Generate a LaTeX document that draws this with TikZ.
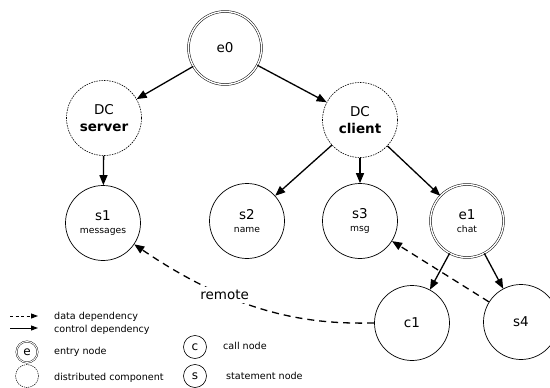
\documentclass[tikz,border=0pt]{standalone}
\usepackage{fontspec}
\setmainfont{DejaVu Sans}
\usetikzlibrary{arrows.meta}
\begin{document}
\begin{tikzpicture}[x=1pt,y=-1pt,
  every node/.style={inner sep=0pt},
  stmt/.style={circle,draw,line width=0.7pt,minimum size=75pt,align=center},
  entry/.style={circle,draw,double,double distance=1.4pt,line width=0.5pt,minimum size=73pt,align=center},
  dc/.style={circle,draw,dash pattern=on 1.6pt off 1pt,line width=0.6pt,minimum size=75pt,align=center,font=\fontsize{13.5}{17}\selectfont},
  ctrl/.style={line width=1.3pt,-{Triangle[length=10pt,width=8pt]}},
  dat/.style={line width=1.3pt,dash pattern=on 7pt off 5pt,-{Triangle[length=10pt,width=8pt]}},
  big/.style={font=\fontsize{13.5}{16}\selectfont},
  leg/.style={font=\fontsize{9.6}{11}\selectfont,anchor=west},
  lstmt/.style={circle,draw,line width=0.6pt,minimum size=23pt,font=\fontsize{12}{13}\selectfont},
  lentry/.style={circle,draw,double,double distance=1pt,line width=0.4pt,minimum size=21pt,font=\fontsize{12}{13}\selectfont},
  ldc/.style={circle,draw,dash pattern=on 1.3pt off 0.9pt,line width=0.5pt,minimum size=23pt}
]
\useasboundingbox (0,0) rectangle (550,388);
\newcommand{\two}[2]{\fontsize{13.5}{16}\selectfont #1\\[1pt]\fontsize{9.2}{11}\selectfont #2}
\node[entry,big] (e0) at (225,48) {e0};
\node[dc] (dcs) at (104,118) {DC\\\bfseries server};
\node[dc] (dcc) at (360,120) {DC\\\bfseries client};
\node[stmt] (s1) at (103,223) {\two{s1}{messages}};
\node[stmt] (s2) at (247,221) {\two{s2}{name}};
\node[stmt] (s3) at (360,221) {\two{s3}{msg}};
\node[entry] (e1) at (467,221) {\two{e1}{chat}};
\node[stmt,big] (c1) at (412,323) {c1};
\node[stmt,big] (s4) at (521,322) {s4};

\draw[ctrl] (e0) -- (dcs);
\draw[ctrl] (e0) -- (dcc);
\draw[ctrl] (dcs) -- (s1);
\draw[ctrl] (dcc) -- (s2);
\draw[ctrl] (dcc) -- (s3);
\draw[ctrl] (dcc) -- (e1);
\draw[ctrl] (e1) -- (c1);
\draw[ctrl] (e1) -- (s4);
\draw[dat] (s4) -- (s3);
\draw[dat] (c1.west) .. controls (320,324) and (245,320) .. node[pos=0.7,fill=white,inner xsep=4pt,inner ysep=3pt,big]{remote} (s1);

% legend
\coordinate (la1) at (10,316); \coordinate (lb1) at (38,316);
\coordinate (la2) at (10,328); \coordinate (lb2) at (38,328);
\draw[line width=0.9pt,dash pattern=on 3pt off 2.5pt,-{Triangle[length=7pt,width=5pt]}] (la1) -- (lb1);
\draw[line width=0.9pt,-{Triangle[length=7pt,width=5pt]}] (la2) -- (lb2);
\node[leg] (t1) at (54,317) {data dependency};
\node[leg] (t2) at (54,330) {control dependency};
\node[lentry] (le) at (27,352) {e};
\node[leg] (t3) at (54,352) {entry node};
\node[ldc] (ld) at (27,376) {};
\node[leg] (t4) at (54,378) {distributed component};
\node[lstmt] (lc) at (195,347) {c};
\node[leg] (t5) at (223,346) {call node};
\node[lstmt] (ls) at (195,376) {s};
\node[leg] (t6) at (226,376) {statement node};
\end{tikzpicture}
\end{document}
